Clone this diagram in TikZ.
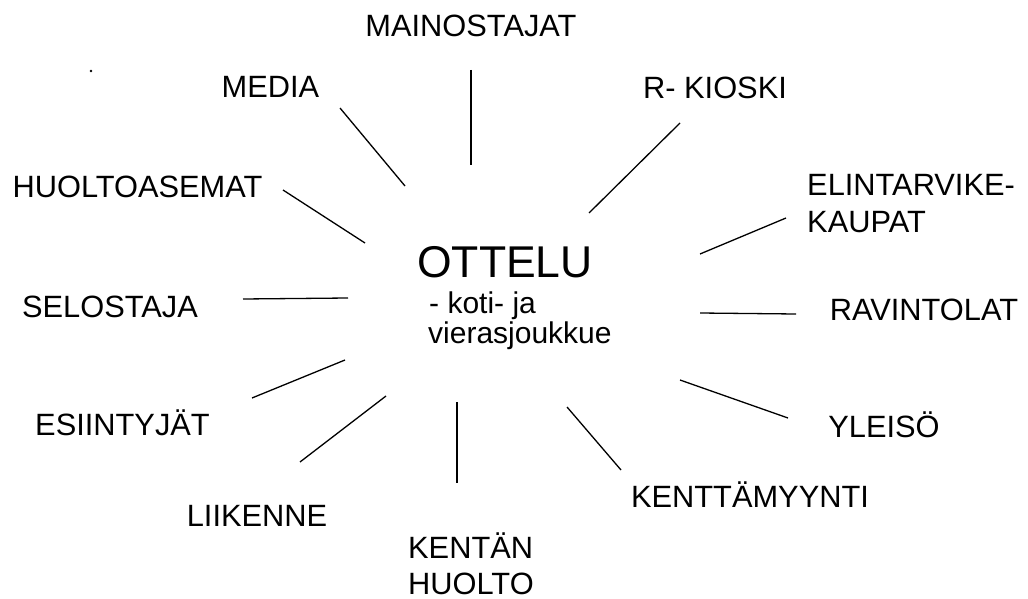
\documentclass[tikz,border=0pt]{standalone}
\usepackage{fontspec}
\setmainfont{Liberation Sans}
\begin{document}
\begin{tikzpicture}[x=1pt,y=-1pt,
  lbl/.style={inner sep=0pt,font=\fontsize{30.8}{37}\selectfont},
  big/.style={inner sep=0pt,font=\fontsize{44.5}{50}\selectfont},
  sub/.style={inner sep=0pt,font=\fontsize{30}{34}\selectfont},
  spoke/.style={line width=1.3pt,black}]
\useasboundingbox (0,0) rectangle (1028,599);
% labels
\node[lbl,anchor=base] (mainos) at (471,37) {MAINOSTAJAT};
\node[lbl,anchor=base] (media) at (270.5,98) {MEDIA};
\node[lbl,anchor=base] (huolto) at (137.5,197) {HUOLTOASEMAT};
\node[lbl,anchor=base] (selostaja) at (110,317) {SELOSTAJA};
\node[lbl,anchor=base] (esiintyjat) at (122.5,435) {ESIINTYJÄT};
\node[lbl,anchor=base] (liikenne) at (257,526) {LIIKENNE};
\node[lbl,anchor=base west] (kentan) at (408,558) {KENTÄN};
\node[lbl,anchor=base west,text depth=0pt] (kentanb) at (408,594) {HUOLTO};
\node[lbl,anchor=base] (myynti) at (750,507) {KENTTÄMYYNTI};
\node[lbl,anchor=base] (yleiso) at (884,437) {YLEISÖ};
\node[lbl,anchor=base] (ravintolat) at (924,320) {RAVINTOLAT};
\node[lbl,anchor=base west] (elin) at (807,195) {ELINTARVIKE-};
\node[lbl,anchor=base west] (elinb) at (807,232) {KAUPAT};
\node[lbl,anchor=base] (kioski) at (715,99) {R- KIOSKI};
% centre
\node[big,anchor=base west] (ottelu) at (417,277) {OTTELU};
\node[sub,anchor=base west] (koti) at (429,313) {- koti- ja};
\node[sub,anchor=base west] (vieras) at (428,343) {vierasjoukkue};
% stray speck
\fill (91,71) circle (1.3);
% spoke end points
\coordinate (m1) at (471,70);  \coordinate (m2) at (471,165);
\coordinate (d1) at (340,108); \coordinate (d2) at (405,186);
\coordinate (h1) at (283,190); \coordinate (h2) at (365,243);
\coordinate (s1) at (243,299); \coordinate (s2) at (348,298);
\coordinate (e1) at (252,398); \coordinate (e2) at (345,360);
\coordinate (l1) at (300,462); \coordinate (l2) at (386,396);
\coordinate (k1) at (457,402); \coordinate (k2) at (457,483);
\coordinate (y1) at (567,407); \coordinate (y2) at (621,470);
\coordinate (p1) at (680,380); \coordinate (p2) at (788,418);
\coordinate (r1) at (700,313); \coordinate (r2) at (796,314);
\coordinate (t1) at (700,254); \coordinate (t2) at (786,218);
\coordinate (q1) at (589,213); \coordinate (q2) at (680,123);
\foreach \a/\b in {m1/m2,d1/d2,h1/h2,s1/s2,e1/e2,l1/l2,k1/k2,y1/y2,p1/p2,r1/r2,t1/t2,q1/q2}
  \draw[spoke] (\a) -- (\b);
\end{tikzpicture}
\end{document}
